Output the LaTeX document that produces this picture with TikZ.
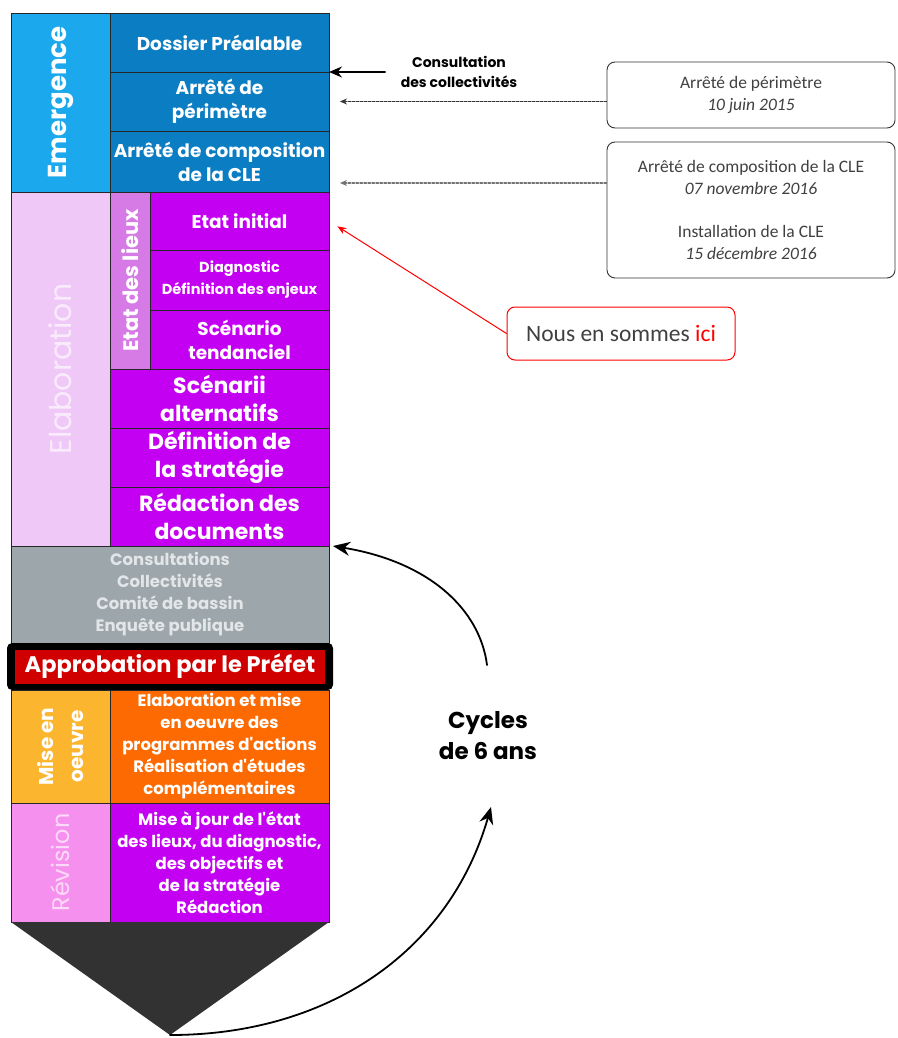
\documentclass[tikz,border=0pt]{standalone}
\usepackage{fontspec}
\setmainfont{Carlito}
\newfontfamily\gothic{Poppins}
\usetikzlibrary{positioning,arrows.meta}

\definecolor{emlight}{HTML}{1CA8EC}
\definecolor{emdark}{HTML}{0B7DC2}
\definecolor{elalight}{HTML}{EFC8F7}
\definecolor{elatext}{HTML}{F9EBFB}
\definecolor{lieux}{HTML}{D67BE6}
\definecolor{violet}{HTML}{C400F2}
\definecolor{consgrey}{HTML}{9DA6AA}
\definecolor{consfont}{HTML}{E2E6E8}
\definecolor{prefred}{HTML}{D00000}
\definecolor{miselight}{HTML}{FBB52F}
\definecolor{misedark}{HTML}{FD6A02}
\definecolor{revlight}{HTML}{F690EE}
\definecolor{revfont}{HTML}{FCD9F8}
\definecolor{arrowhead}{HTML}{323232}

\begin{document}
\begin{tikzpicture}[x=1pt, y=-1pt, line cap=round]

%---- STYLES ----
\tikzset{
    cell/.style={draw=black!85, line width=0.8pt, text=white, align=center,
        inner sep=0pt, outer sep=0pt, font=\gothic\bfseries\fontsize{18.5}{24}\selectfont},
    smallcell/.style={cell, font=\gothic\bfseries\fontsize{14.5}{22}\selectfont},
    bigcell/.style={cell, font=\gothic\bfseries\fontsize{22}{27.5}\selectfont},
    textcell/.style={cell, font=\gothic\bfseries\fontsize{16.5}{22}\selectfont},
    side/.style={rotate=90, text=white, align=center, inner sep=0pt},
    datebox/.style={draw=black!80, line width=0.9pt, rounded corners=8pt, text=black!75,
        align=center, minimum width=288pt, font=\fontsize{17.5}{22}\selectfont},
    dotarrow/.style={-{Stealth[length=7pt, width=6pt]}, black!80, line width=1.2pt,
        dash pattern=on 2.5pt off 1.5pt, shorten >=11pt},
    cyclearrow/.style={-{Stealth[length=17pt, width=14pt]}, line width=1.8pt},
}

\useasboundingbox (0,0) rectangle (897,1038);

%---- EMERGENCE ----
\node[cell, fill=emlight, minimum width=99pt, minimum height=179pt] (emleft) at (60.5,102.5) {};
\node[side, font=\gothic\bfseries\fontsize{26}{26}\selectfont] (emtext) at (emleft) {Emergence};
\node[cell, fill=emdark, minimum width=219pt, minimum height=59pt] (dossier) at (219.5,42.5) {Dossier Préalable};
\node[cell, fill=emdark, minimum width=219pt, minimum height=59pt, below=0pt of dossier] (perim) {Arrêté de\\périmètre};
\node[cell, fill=emdark, minimum width=219pt, minimum height=61pt, below=0pt of perim] (compo) {Arrêté de composition\\de la CLE};

%---- ELABORATION ----
\node[cell, fill=elalight, minimum width=99pt, minimum height=354pt] (elaleft) at (60.5,369) {};
\node[side, text=elatext, font=\gothic\fontsize{30}{30}\selectfont] (elatext) at (elaleft) {Elaboration};
\node[cell, fill=lieux, minimum width=40pt, minimum height=177pt] (lieux) at (130,280.5) {};
\node[side, font=\gothic\bfseries\fontsize{21}{21}\selectfont] (lieuxtext) at (lieux) {Etat des lieux};
\node[cell, fill=violet, minimum width=179pt, minimum height=58pt] (initial) at (239.5,221) {Etat initial};
\node[smallcell, fill=violet, minimum width=179pt, minimum height=60pt, below=0pt of initial] (diag) {Diagnostic\\Définition des enjeux};
\node[cell, fill=violet, minimum width=179pt, minimum height=59pt, below=0pt of diag] (tend) {Scénario\\tendanciel};
\node[bigcell, fill=violet, minimum width=219pt, minimum height=59pt] (scenarii) at (219.5,398.5) {Scénarii\\alternatifs};
\node[bigcell, fill=violet, minimum width=219pt, minimum height=59pt, below=0pt of scenarii] (strategie) {Définition de\\la stratégie};
\node[bigcell, fill=violet, minimum width=219pt, minimum height=59pt, below=0pt of strategie] (redaction) {Rédaction des\\documents};

%---- CONSULTATIONS ----
\node[textcell, fill=consgrey, text=consfont, minimum width=318pt, minimum height=97pt] (consult) at (170,594.5)
    {Consultations\\Collectivités\\Comité de bassin\\Enquête publique};

% Approbation
\node[fill=black, rounded corners=5pt, minimum width=326pt, minimum height=47pt] (approb) at (170,666.5) {};
\node[cell, draw=none, fill=prefred, minimum width=310pt, minimum height=34pt,
    font=\gothic\bfseries\fontsize{22.5}{22.5}\selectfont] (prefet) at (approb) {Approbation par le Préfet};

%---- MISE EN OEUVRE ----
\node[cell, fill=miselight, minimum width=99pt, minimum height=113pt] (miseleft) at (60.5,746.5) {};
\node[side, font=\gothic\bfseries\fontsize{20}{30}\selectfont] (misetext) at (miseleft) {Mise en\\oeuvre};
\node[textcell, fill=misedark, minimum width=219pt, minimum height=113pt] (miseright) at (219.5,746.5)
    {Elaboration et mise\\en oeuvre des\\programmes d'actions\\Réalisation d'études\\complémentaires};

%---- REVISION ----
\node[cell, fill=revlight, minimum width=99pt, minimum height=119pt] (revleft) at (60.5,862.5) {};
\node[side, text=revfont, font=\gothic\fontsize{24}{24}\selectfont] (revtext) at (revleft) {Révision};
\node[textcell, fill=violet, minimum width=219pt, minimum height=119pt] (revright) at (219.5,862.5)
    {Mise à jour de l'état\\des lieux, du diagnostic,\\des objectifs et\\de la stratégie\\Rédaction};

% pencil tip
\coordinate (tip) at (170,1035);
\fill[arrowhead] (revleft.south west) -- (revright.south east) -- (tip) -- cycle;

%---- NOTES ON THE RIGHT ----
\node[font=\gothic\bfseries\fontsize{14}{20}\selectfont, align=center] (collect) at (459,72)
    {Consultation\\des collectivités};
\draw[-{Stealth[length=13pt, width=11pt]}, line width=1.2pt] ([xshift=-12pt]collect.west) -- (dossier.south east);

\node[datebox, minimum height=66pt] (datebox1) at (751,95)
    {Arrêté de périmètre\\\textit{10 juin 2015}};
\node[datebox, minimum height=136pt] (datebox2) at (751,210)
    {Arrêté de composition de la CLE\\\textit{07 novembre 2016}\\[21pt]Installation de la CLE\\\textit{15 décembre 2016}};
\draw[dotarrow] (datebox1.west |- perim.east) -- (perim.east);
\draw[dotarrow, black!55] ([yshift=27pt]datebox2.west) -- ([yshift=27pt]datebox2.west -| compo.east);

\node[draw=red, line width=1pt, rounded corners=8pt, minimum width=228pt, minimum height=53pt,
    text=black!75, font=\fontsize{23.5}{23.5}\selectfont] (ici) at (621,333.5)
    {Nous en sommes \textcolor{red}{ici}};
\draw[red, line width=1pt, -{Stealth[length=9pt, width=7pt]}, shorten >=10pt] (ici.west) -- (initial.east);

%---- CYCLES ----
\node[font=\gothic\bfseries\fontsize{23}{31}\selectfont, align=center] (cycles) at (488,736)
    {Cycles\\de 6 ans};
\coordinate (cyctop) at (487,665);
\coordinate (cycbot) at (491,807);
\draw[cyclearrow] (cyctop) .. controls (480,610) and (430,562) .. ([xshift=4pt]redaction.south east);
\draw[cyclearrow] (tip) .. controls (330,1035) and (450,950) .. (cycbot);

\end{tikzpicture}
\end{document}
